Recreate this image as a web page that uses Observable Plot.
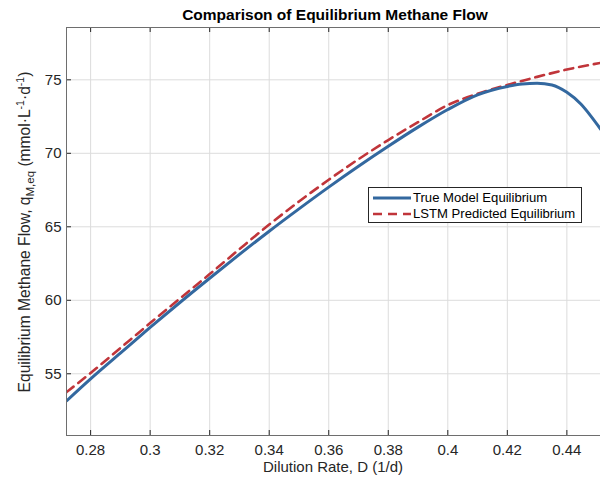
<!DOCTYPE html>
<html><head><meta charset="utf-8">
<script src="https://cdn.jsdelivr.net/npm/d3@7"></script>
<script src="https://cdn.jsdelivr.net/npm/@observablehq/plot@0.6"></script>
<style>
body{margin:0;background:#fff;font-family:"Liberation Sans",Arial,Helvetica,sans-serif;}
#c{position:relative;width:600px;height:479px;overflow:hidden;}
#legend{position:absolute;left:368px;top:187px;width:212px;height:34px;border:1px solid #262626;background:#fff;font-size:13.1px;color:#000;}
#legend .row{position:absolute;left:0;height:16px;line-height:16px;white-space:nowrap;}
#legend svg{position:absolute;left:3px;top:0;}
#legend span{position:absolute;left:44px;top:0;}
</style>
</head><body><div id="c"></div>
<script>
// Data
const dilution = [0.2719, 0.28, 0.29, 0.30, 0.31, 0.32, 0.33, 0.34, 0.35, 0.36, 0.37, 0.38, 0.39, 0.40, 0.41, 0.42, 0.425, 0.43, 0.435, 0.44, 0.4447, 0.448, 0.4513];
const trueFlow = [53.15, 54.65, 56.4, 58.15, 59.85, 61.5, 63.12, 64.7, 66.22, 67.7, 69.12, 70.48, 71.78, 72.98, 73.98, 74.55, 74.72, 74.77, 74.65, 74.15, 73.35, 72.55, 71.65];
const lstmDilution = [0.2719, 0.28, 0.29, 0.30, 0.31, 0.32, 0.33, 0.34, 0.35, 0.36, 0.37, 0.38, 0.39, 0.40, 0.41, 0.42, 0.43, 0.44, 0.4513];
const lstmFlow = [53.75, 55.05, 56.75, 58.45, 60.12, 61.78, 63.48, 65.15, 66.72, 68.2, 69.6, 70.9, 72.12, 73.28, 74.05, 74.65, 75.2, 75.7, 76.15];
const xTicks = [0.28, 0.30, 0.32, 0.34, 0.36, 0.38, 0.40, 0.42, 0.44];
const yTicks = [55, 60, 65, 70, 75];
const xDomain = [0.2719, 0.4513];
const yDomain = [50.8, 78.56];

const W = 600, H = 479, mL = 66, mR = 0, mT = 27, mB = 44;
const tx = 5 * (xDomain[1] - xDomain[0]) / (W - mL - mR);
const ty = 5 * (yDomain[1] - yDomain[0]) / (H - mT - mB);
const trueData = dilution.map((d, i) => ({D: d, q: trueFlow[i]}));
const lstmData = lstmDilution.map((d, i) => ({D: d, q: lstmFlow[i]}));
const fmt = d => String(+d.toFixed(2));
const axisColor = "#262626";

const chart = Plot.plot({
  width: W, height: H,
  marginLeft: mL, marginRight: mR, marginTop: mT, marginBottom: mB,
  style: {fontFamily: '"Liberation Sans", Arial, sans-serif', fontSize: "15px", color: axisColor, background: "#fff"},
  x: {domain: xDomain},
  y: {domain: yDomain},
  marks: [
    Plot.gridX(xTicks, {stroke: "#dcdcdc", strokeOpacity: 1}),
    Plot.gridY(yTicks, {stroke: "#dcdcdc", strokeOpacity: 1}),
    Plot.line(lstmData, {x: "D", y: "q", stroke: "#c0353a", strokeWidth: 2.6, strokeDasharray: "9,6", curve: "monotone-x", clip: true}),
    Plot.line(trueData, {x: "D", y: "q", stroke: "#33689f", strokeWidth: 3, curve: "monotone-x", clip: true}),
    Plot.ruleX(xTicks, {y1: yDomain[0], y2: yDomain[0] + ty, stroke: axisColor, strokeWidth: 1}),
    Plot.ruleX(xTicks, {y1: yDomain[1], y2: yDomain[1] - ty, stroke: axisColor, strokeWidth: 1}),
    Plot.ruleY(yTicks, {x1: xDomain[0], x2: xDomain[0] + tx, stroke: axisColor, strokeWidth: 1}),
    Plot.ruleX([xDomain[0]], {stroke: "#6e6e6e", strokeWidth: 1}),
    Plot.ruleY([yDomain[0], yDomain[1]], {stroke: "#6e6e6e", strokeWidth: 1}),
    Plot.axisX(xTicks, {tickSize: 0, tickPadding: 9, tickFormat: fmt, label: null, fontSize: 15, fill: axisColor}),
    Plot.axisY(yTicks, {tickSize: 0, tickPadding: 5, label: null, fontSize: 15, fill: axisColor})
  ]
});
document.getElementById("c").appendChild(chart);

const svg = d3.select(chart);
svg.append("text").attr("x", 335).attr("y", 20).attr("text-anchor", "middle")
  .attr("font-size", 15.5).attr("font-weight", "bold").attr("fill", "#000")
  .text("Comparison of Equilibrium Methane Flow");
svg.append("text").attr("x", 333).attr("y", 472).attr("text-anchor", "middle")
  .attr("font-size", 15).attr("fill", axisColor).text("Dilution Rate, D (1/d)");
const yl = svg.append("text").attr("transform", "translate(30,232) rotate(-90)")
  .attr("text-anchor", "middle").attr("font-size", 15.6).attr("fill", axisColor);
yl.append("tspan").text("Equilibrium Methane Flow, q");
yl.append("tspan").attr("font-size", 11.5).attr("dy", 4).text("M,eq");
yl.append("tspan").attr("dy", -4).text(" (mmol·L");
yl.append("tspan").attr("font-size", 10.5).attr("dy", -6).text("-1");
yl.append("tspan").attr("dy", 6).text("·d");
yl.append("tspan").attr("font-size", 10.5).attr("dy", -6).text("-1");
yl.append("tspan").attr("dy", 6).text(")");

// Legend
const legendItems = [
  {label: "True Model Equilibrium", color: "#33689f", dash: null, w: 3},
  {label: "LSTM Predicted Equilibrium", color: "#c0353a", dash: "9,6", w: 2.6}
];
const lg = document.createElement("div");
lg.id = "legend";
legendItems.forEach((it, i) => {
  const row = document.createElement("div");
  row.className = "row";
  row.style.top = (2 + i * 16) + "px";
  row.innerHTML = `<svg width="40" height="16"><line x1="1" x2="39" y1="8" y2="8" stroke="${it.color}" stroke-width="${it.w}" ${it.dash ? `stroke-dasharray="${it.dash}"` : ""}/></svg><span>${it.label}</span>`;
  lg.appendChild(row);
});
document.getElementById("c").appendChild(lg);
</script>
</body></html>
